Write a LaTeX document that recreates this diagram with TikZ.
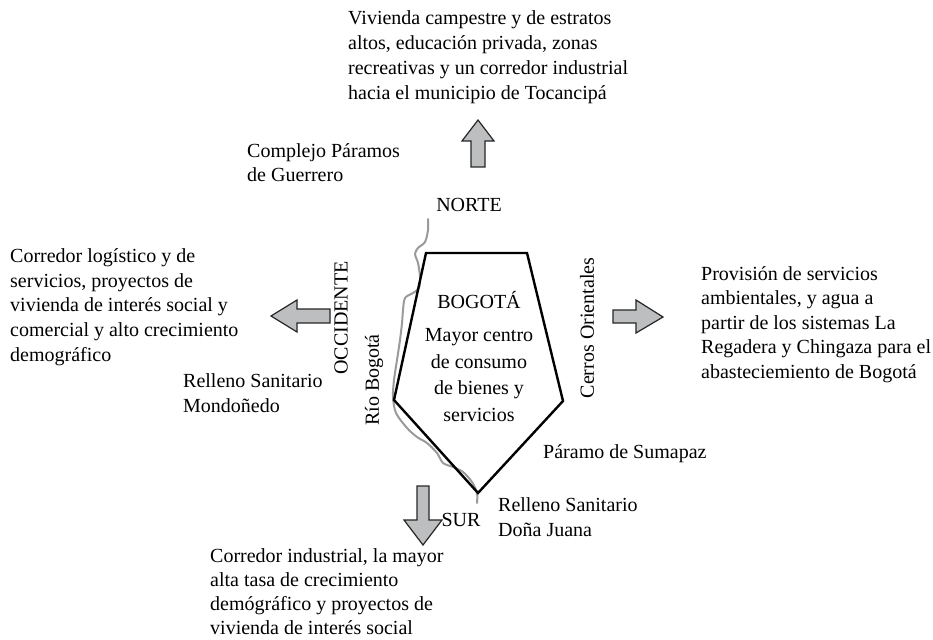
\documentclass[tikz,border=0pt]{standalone}
\usepackage{fontspec}
\setmainfont{Liberation Serif}
\definecolor{arrowfill}{HTML}{BDBEC0}
\definecolor{rivergray}{HTML}{9A9A9A}
\tikzset{
  txt/.style={inner sep=0pt, align=left, anchor=base west, font=\fontsize{20}{24.6}\selectfont},
  ctxt/.style={inner sep=0pt, align=center, anchor=base, font=\fontsize{20}{26.7}\selectfont},
  rtxt/.style={inner sep=0pt, rotate=90, anchor=center, font=\fontsize{20}{24.6}\selectfont},
  blockarrow/.style={draw=black!85, fill=arrowfill, line width=1.2pt, line join=miter},
  city/.style={draw=black, line width=2.4pt, line join=miter},
  river/.style={draw=rivergray, line width=2pt, line join=round, line cap=round},
}
\begin{document}
\begin{tikzpicture}[x=1pt, y=-1pt]
\useasboundingbox (0,0) rectangle (933,639);
% river
\draw[river] plot[smooth, tension=0.5] coordinates {
 (428,219) (428,230) (425,242) (418,248) (415,254) (418,263) (420,277) (419,288)
 (413,293) (405,298) (403,310) (402,323) (400,340) (397,360) (394,380) (393,397)
 (396,413) (407,428) (417,437) (427,443) (437,453) (443,463) (453,467) (463,472)
 (472,482) (477,493) (477,503)};
% city
\draw[city] (426,253) -- (527,253) -- (563,401) -- (478,493) -- (394,400) -- cycle;
% arrows
\draw[blockarrow] (471,167) -- (471,141) -- (462,141) -- (478,120) -- (494,141) -- (485,141) -- (485,167) -- cycle;
\draw[blockarrow] (330,309) -- (297,309) -- (297,300) -- (271,316) -- (297,332) -- (297,323) -- (330,323) -- cycle;
\draw[blockarrow] (613,310) -- (636,310) -- (636,300) -- (663,317) -- (636,333) -- (636,323) -- (613,323) -- cycle;
\draw[blockarrow] (417,486) -- (429,486) -- (429,520) -- (442,520) -- (423,545) -- (404,520) -- (417,520) -- cycle;
% texts (base anchor = baseline of the last line)
\node[txt, font=\fontsize{20}{25}\selectfont] (norte_txt) at (348,99.5) {Vivienda campestre y de estratos\\altos, educación privada, zonas\\recreativas y un corredor industrial\\hacia el municipio de Tocancipá};
\node[txt] (guerrero) at (247,182) {Complejo Páramos\\de Guerrero};
\node[ctxt] (norte) at (469,211.5) {NORTE};
\node[txt] (occ_txt) at (10,361) {Corredor logístico y de\\servicios, proyectos de\\vivienda de interés social y\\comercial y alto crecimiento\\demográfico};
\node[txt] (mondo) at (183,412.5) {Relleno Sanitario\\Mondoñedo};
\node[rtxt] (occ) at (341,318) {OCCIDENTE};
\node[rtxt] (rio) at (374,380) {Río Bogotá};
\node[rtxt] (cerros) at (587,328) {Cerros Orientales};
\node[ctxt] (bogota) at (479,308.5) {BOGOTÁ};
\node[ctxt] (consumo) at (479,421.5) {Mayor centro\\de consumo\\de bienes y\\servicios};
\node[txt, font=\fontsize{20}{24.4}\selectfont] (or_txt) at (701,378) {Provisión de servicios\\ambientales, y agua a\\partir de los sistemas La\\Regadera y Chingaza para el\\abasteciemiento de Bogotá};
\node[txt] (sumapaz) at (543,458) {Páramo de Sumapaz};
\node[txt, font=\fontsize{20}{25}\selectfont] (juana) at (498,536) {Relleno Sanitario\\Doña Juana};
\node[ctxt] (sur) at (461,526) {SUR};
\node[txt, font=\fontsize{20}{24}\selectfont] (sur_txt) at (210,634) {Corredor industrial, la mayor\\alta tasa de crecimiento\\demógráfico y proyectos de\\vivienda de interés social};
\end{tikzpicture}
\end{document}
